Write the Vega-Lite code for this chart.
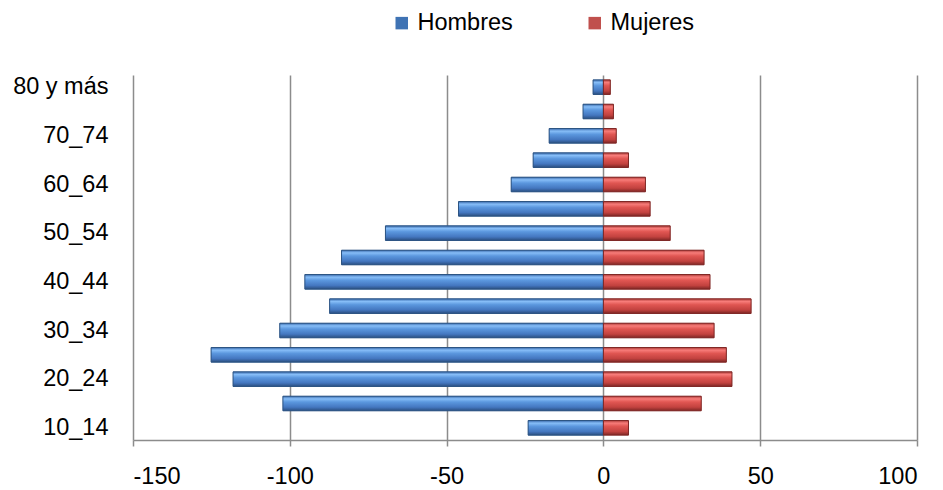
{
  "$schema": "https://vega.github.io/schema/vega-lite/v6.json",
  "width": 784,
  "height": 365,
  "autosize": {"type": "none"},
  "padding": {"left": 133, "top": 75, "right": 26, "bottom": 50},
  "background": "white",
  "config": {
    "view": {"stroke": null},
    "font": "Liberation Sans"
  },
  "data": {
    "values": [
      {"edad": "10_14", "sexo": "Hombres", "valor": -24.0},
      {"edad": "15_19", "sexo": "Hombres", "valor": -102.2},
      {"edad": "20_24", "sexo": "Hombres", "valor": -118.1},
      {"edad": "25_29", "sexo": "Hombres", "valor": -125.1},
      {"edad": "30_34", "sexo": "Hombres", "valor": -103.2},
      {"edad": "35_39", "sexo": "Hombres", "valor": -87.3},
      {"edad": "40_44", "sexo": "Hombres", "valor": -95.2},
      {"edad": "45_49", "sexo": "Hombres", "valor": -83.5},
      {"edad": "50_54", "sexo": "Hombres", "valor": -69.5},
      {"edad": "55_59", "sexo": "Hombres", "valor": -46.2},
      {"edad": "60_64", "sexo": "Hombres", "valor": -29.4},
      {"edad": "65_69", "sexo": "Hombres", "valor": -22.4},
      {"edad": "70_74", "sexo": "Hombres", "valor": -17.3},
      {"edad": "75_79", "sexo": "Hombres", "valor": -6.5},
      {"edad": "80 y más", "sexo": "Hombres", "valor": -3.3},
      {"edad": "10_14", "sexo": "Mujeres", "valor": 8.0},
      {"edad": "15_19", "sexo": "Mujeres", "valor": 31.2},
      {"edad": "20_24", "sexo": "Mujeres", "valor": 41.0},
      {"edad": "25_29", "sexo": "Mujeres", "valor": 39.2},
      {"edad": "30_34", "sexo": "Mujeres", "valor": 35.3},
      {"edad": "35_39", "sexo": "Mujeres", "valor": 47.1},
      {"edad": "40_44", "sexo": "Mujeres", "valor": 34.0},
      {"edad": "45_49", "sexo": "Mujeres", "valor": 32.1},
      {"edad": "50_54", "sexo": "Mujeres", "valor": 21.3},
      {"edad": "55_59", "sexo": "Mujeres", "valor": 14.9},
      {"edad": "60_64", "sexo": "Mujeres", "valor": 13.4},
      {"edad": "65_69", "sexo": "Mujeres", "valor": 8.0},
      {"edad": "70_74", "sexo": "Mujeres", "valor": 4.1},
      {"edad": "75_79", "sexo": "Mujeres", "valor": 3.2},
      {"edad": "80 y más", "sexo": "Mujeres", "valor": 2.2}
    ]
  },
  "encoding": {
    "y": {
      "field": "edad",
      "type": "ordinal",
      "sort": ["80 y más", "75_79", "70_74", "65_69", "60_64", "55_59", "50_54", "45_49", "40_44", "35_39", "30_34", "25_29", "20_24", "15_19", "10_14"],
      "scale": {"paddingInner": 0.4, "paddingOuter": 0.2},
      "axis": {
        "title": null,
        "values": ["80 y más", "70_74", "60_64", "50_54", "40_44", "30_34", "20_24", "10_14"],
        "ticks": false,
        "domain": false,
        "grid": false,
        "labelFontSize": 23.5,
        "labelColor": "#000000",
        "labelPadding": 25,
        "labelFont": "Liberation Sans"
      }
    },
    "x": {
      "field": "valor",
      "type": "quantitative",
      "scale": {"domain": [-150, 100], "nice": false},
      "axis": {
        "title": null,
        "values": [-150, -100, -50, 0, 50, 100],
        "labelExpr": "datum.value < 0 ? '-' + abs(datum.value) : '' + datum.value",
        "grid": true,
        "gridColor": "#8c8c8c",
        "gridWidth": 1.5,
        "domainColor": "#8c8c8c",
        "domainWidth": 1.5,
        "tickColor": "#8c8c8c",
        "tickWidth": 1.5,
        "tickSize": 6,
        "labelFontSize": 23.5,
        "labelColor": "#000000",
        "labelPadding": 18,
        "labelFont": "Liberation Sans"
      }
    }
  },
  "layer": [
    {
      "mark": {"type": "bar"},
      "encoding": {
        "color": {
          "field": "sexo",
          "type": "nominal",
          "scale": {"domain": ["Hombres", "Mujeres"], "range": ["#3f73b4", "#c0504d"]},
          "legend": {
            "title": null,
            "orient": "none",
            "direction": "horizontal",
            "legendX": 257,
            "legendY": -64,
            "padding": 0,
            "symbolType": "square",
            "symbolSize": 156,
            "symbolStrokeWidth": 0,
            "labelFontSize": 23.5,
            "labelColor": "#000000",
            "labelOffset": 4,
            "columnPadding": 70,
            "labelFont": "Liberation Sans"
          }
        }
      }
    },
    {
      "transform": [{"filter": "datum.sexo === 'Hombres'"}],
      "mark": {
        "type": "bar",
        "stroke": "#2c5382",
        "strokeWidth": 1,
        "fill": {
          "gradient": "linear", "x1": 0, "y1": 0, "x2": 0, "y2": 1,
          "stops": [
            {"offset": 0, "color": "#3b6cae"},
            {"offset": 0.18, "color": "#86bdf7"},
            {"offset": 0.4, "color": "#5b97de"},
            {"offset": 0.75, "color": "#4477c0"},
            {"offset": 1, "color": "#2b4f80"}
          ]
        }
      }
    },
    {
      "transform": [{"filter": "datum.sexo === 'Mujeres'"}],
      "mark": {
        "type": "bar",
        "stroke": "#7e2725",
        "strokeWidth": 1,
        "fill": {
          "gradient": "linear", "x1": 0, "y1": 0, "x2": 0, "y2": 1,
          "stops": [
            {"offset": 0, "color": "#b03e3b"},
            {"offset": 0.18, "color": "#f77c79"},
            {"offset": 0.4, "color": "#e05652"},
            {"offset": 0.75, "color": "#c2423f"},
            {"offset": 1, "color": "#7e2725"}
          ]
        }
      }
    }
  ]
}
